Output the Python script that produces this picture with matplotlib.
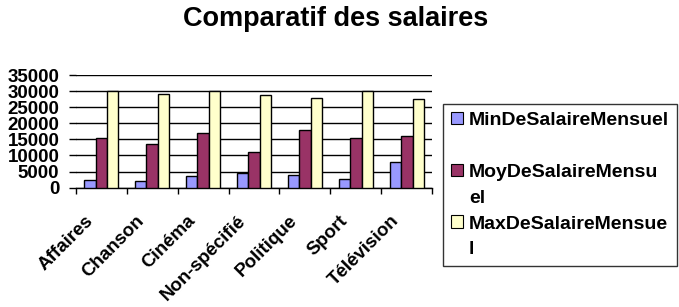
import numpy as np
import matplotlib
matplotlib.use("Agg")
import matplotlib.pyplot as plt
from matplotlib.patches import Patch
from matplotlib.transforms import ScaledTranslation

plt.rcParams['font.family'] = ['Liberation Sans', 'DejaVu Sans']
plt.rcParams['font.weight'] = 'bold'

categories = ["Affaires", "Chanson", "Cinéma", "Non-spécifié", "Politique", "Sport", "Télévision"]
min_salaire = [2400, 2100, 3600, 4550, 3900, 2700, 7950]
moy_salaire = [15400, 13500, 17050, 11050, 17850, 15400, 16000]
max_salaire = [30000, 29000, 30000, 28700, 27800, 30000, 27500]
series_names = ["MinDeSalaireMensuel", "MoyDeSalaireMensu", "MaxDeSalaireMensue"]
series_colors = ["#9999FF", "#993366", "#FFFFCC"]

fig = plt.figure(figsize=(6.79, 3.07), dpi=100)
ax = fig.add_axes([0.1115, 0.3886, 0.5252, 0.3671])

x = np.arange(len(categories))
w = 0.222
for i, (vals, col) in enumerate(zip([min_salaire, moy_salaire, max_salaire], series_colors)):
    ax.bar(x + (i - 1) * w, vals, width=w, color=col, edgecolor='black', linewidth=1, zorder=3)

ax.set_xlim(-0.5, len(categories) - 0.5)
ax.set_ylim(0, 35000)
ax.set_yticks(np.arange(0, 35001, 5000))
ax.yaxis.grid(True, color='black', linewidth=1, zorder=0)
for s in ['top', 'right', 'left']:
    ax.spines[s].set_visible(False)
ax.spines['bottom'].set_linewidth(1)
ax.tick_params(axis='y', direction='out', length=4.8, width=1, pad=7, labelsize=13.5)

# category ticks at boundaries, labels at centres
ax.set_xticks(x)
ax.set_xticks(np.arange(-0.5, len(categories), 1), minor=True)
ax.tick_params(axis='x', which='major', length=0, pad=22, labelsize=13.5)
ax.tick_params(axis='x', which='minor', direction='out', length=4.5, width=1)
ax.set_xticklabels(categories, rotation=45, ha='right', va='center', rotation_mode='anchor')
offset = ScaledTranslation(-0.105, 0, fig.dpi_scale_trans)
for lab in ax.get_xticklabels():
    lab.set_transform(lab.get_transform() + offset)

fig.text(0.495, 0.98, "Comparatif des salaires", ha='center', va='top',
         fontsize=19.5, fontweight='bold')

blank = Patch(facecolor='none', edgecolor='none')
handles = [Patch(facecolor=series_colors[0], edgecolor='black', linewidth=0.8), blank,
           Patch(facecolor=series_colors[1], edgecolor='black', linewidth=0.8), blank,
           Patch(facecolor=series_colors[2], edgecolor='black', linewidth=0.8), blank]
labels = [series_names[0], " ", series_names[1], "el", series_names[2], "l"]
leg = fig.legend(handles, labels, loc='upper left', bbox_to_anchor=(0.6524, 0.6612),
                 fontsize=14, frameon=True, fancybox=False, shadow=False,
                 handlelength=0.62, handleheight=0.62, handletextpad=0.31,
                 labelspacing=0.45, borderpad=0.4, borderaxespad=0)
leg.get_frame().set_edgecolor('black')
leg.get_frame().set_linewidth(1)

fig.savefig("out.png", dpi=100, facecolor='white')
